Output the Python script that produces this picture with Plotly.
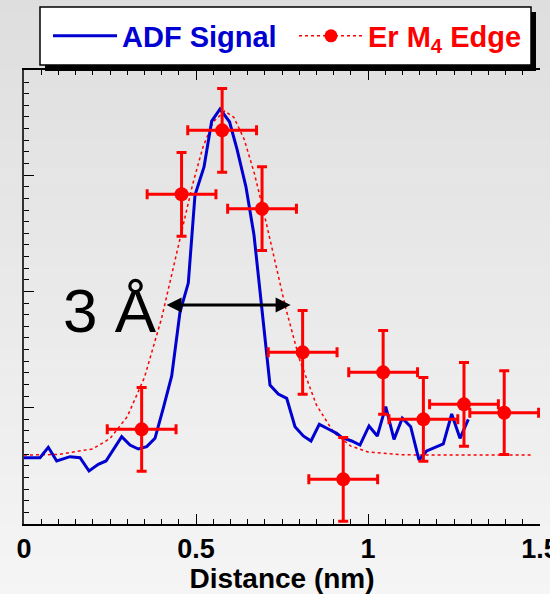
import plotly.graph_objects as go

# ---------------- data ----------------
adf_x = [0.000, 0.0465, 0.0706, 0.0951, 0.1337, 0.1628, 0.1890, 0.2160, 0.2384,
         0.2840, 0.3081, 0.3323, 0.3567, 0.3808, 0.4049, 0.4294, 0.4535, 0.4776,
         0.4971, 0.5233, 0.5456, 0.5698, 0.5974, 0.6192, 0.6453, 0.6686, 0.6919,
         0.7151, 0.7392, 0.7637, 0.7878, 0.8119, 0.8343, 0.8584, 0.8846, 0.9090,
         0.9235, 0.9526, 0.9767, 1.0029, 1.0270, 1.0515, 1.0756, 1.0997, 1.1241,
         1.1483, 1.1706, 1.2189, 1.2433, 1.2674, 1.2916]
adf_y = [0.570, 0.570, 0.660, 0.542, 0.579, 0.570, 0.456, 0.513, 0.542,
         0.751, 0.679, 0.645, 0.665, 0.737, 0.997, 1.273, 1.823, 2.072,
         2.829, 3.070, 3.465, 3.568, 3.459, 3.224, 2.898, 2.485, 1.840,
         1.195, 1.118, 1.081, 0.837, 0.757, 0.714, 0.857, 0.817, 0.780,
         0.745, 0.714, 0.679, 0.843, 0.757, 1.009, 0.728, 0.909, 0.837,
         0.550, 0.628, 0.688, 0.946, 0.737, 0.900]

er_x = [0.342, 0.458, 0.576, 0.692, 0.810, 0.928, 1.044, 1.161, 1.279, 1.396]
er_y = [0.814, 2.835, 3.385, 2.711, 1.476, 0.384, 1.304, 0.900, 1.029, 0.957]
er_xerr = [0.10, 0.10, 0.10, 0.10, 0.10, 0.10, 0.10, 0.10, 0.10, 0.10]
er_yerr = [0.36, 0.36, 0.36, 0.36, 0.36, 0.36, 0.36, 0.36, 0.36, 0.36]

fit_x = [0.00, 0.10, 0.20, 0.25, 0.30, 0.35, 0.40, 0.43, 0.46, 0.49, 0.52, 0.55,
         0.584, 0.61, 0.64, 0.67, 0.70, 0.73, 0.76, 0.80, 0.85, 0.90, 0.95, 1.00,
         1.10, 1.20, 1.30, 1.40, 1.48]
fit_y = [0.593, 0.598, 0.646, 0.735, 0.922, 1.259, 1.769, 2.143, 2.539, 2.918, 3.239, 3.459,
         3.551, 3.497, 3.309, 3.011, 2.643, 2.248, 1.866, 1.423, 1.024, 0.788, 0.670, 0.620,
         0.595, 0.593, 0.593, 0.593, 0.593]

x_tickvals = [0, 0.5, 1, 1.5]
x_ticktext = ["0", "0.5", "1", "1.5"]

# ---------------- styling ----------------
FONT = "Liberation Sans, Arial, Helvetica, sans-serif"
BLUE = "#0000d0"
RED = "#ff0000"
W, H = 550, 594
L, R, T, B = 24, 10, 70, 70
PW, PH = W - L - R, H - T - B


def px(xp):
    return (xp - L) / PW


def py(yp):
    return (H - B - yp) / PH


fig = go.Figure()

fig.add_trace(go.Scatter(x=fit_x, y=fit_y, mode="lines",
                         line=dict(color=RED, width=1.5, dash="dot"),
                         showlegend=False, hoverinfo="skip"))
fig.add_trace(go.Scatter(x=adf_x, y=adf_y, mode="lines", name="ADF Signal",
                         line=dict(color=BLUE, width=3), legend="legend"))
fig.add_trace(go.Scatter(x=er_x, y=er_y, mode="markers", showlegend=False,
                         marker=dict(color=RED, size=14),
                         error_x=dict(type="data", array=er_xerr, color=RED, thickness=3, width=5),
                         error_y=dict(type="data", array=er_yerr, color=RED, thickness=3, width=5),
                         cliponaxis=False))
# legend entry for the Er edge (marker + dotted fit line)
fig.add_trace(go.Scatter(x=[None], y=[None], mode="lines+markers",
                         name="Er M<sub>4</sub> Edge", legend="legend2",
                         line=dict(color=RED, width=1.5, dash="dot"),
                         marker=dict(color=RED, size=13)))

# background gradient strips
shapes = []
N = 60
for i in range(N):
    y0 = i * H / N
    y1 = (i + 1) * H / N
    c = round(222 + (245 - 222) * (i + 0.5) / N)
    shapes.append(dict(type="rect", xref="paper", yref="paper", layer="below",
                       x0=px(0), x1=px(W), y0=py(y1 + 0.5), y1=py(y0),
                       fillcolor=f"rgb({c},{c},{c})", line=dict(width=0)))
# legend box with shadow
shapes.append(dict(type="rect", xref="paper", yref="paper", layer="above",
                   x0=px(45), x1=px(536), y0=py(71), y1=py(12),
                   fillcolor="black", line=dict(width=0)))
shapes.append(dict(type="rect", xref="paper", yref="paper", layer="above",
                   x0=px(40), x1=px(531), y0=py(65), y1=py(7),
                   fillcolor="white", line=dict(color="black", width=1.5)))

annotations = [
    dict(x=0.775, y=1.883, ax=0.41, ay=1.883, xref="x", yref="y", axref="x", ayref="y",
         text="", showarrow=True, arrowhead=2, startarrowhead=2, arrowside="end+start",
         arrowwidth=3, arrowsize=1, startarrowsize=1, arrowcolor="black",
         standoff=0, startstandoff=0),
    dict(x=0.249, y=1.84, xref="x", yref="y", text="3 Å", showarrow=False,
         xanchor="center", yanchor="middle",
         font=dict(family=FONT, size=62, color="black")),
]

fig.update_layout(
    width=W, height=H,
    margin=dict(l=L, r=R, t=T, b=B, pad=0, autoexpand=False),
    paper_bgcolor="rgba(0,0,0,0)", plot_bgcolor="rgba(0,0,0,0)",
    font=dict(family=FONT, color="black"),
    shapes=shapes, annotations=annotations,
    xaxis=dict(range=[0, 1.5], tickvals=x_tickvals, ticktext=x_ticktext,
               automargin=False,
               ticks="inside", ticklen=10, tickwidth=1, tickcolor="black",
               ticklabeloverflow="allow",
               minor=dict(dtick=0.05, tick0=0, ticks="inside", ticklen=5, tickcolor="black"),
               showgrid=False, zeroline=False, showline=True, linecolor="black", linewidth=1.5,
               mirror="ticks",
               tickfont=dict(family=FONT, size=27, color="black", weight="bold"),
               title=dict(text="Distance (nm)", standoff=2,
                          font=dict(family=FONT, size=28, color="black", weight="bold"))),
    yaxis=dict(range=[0, 3.904], dtick=1, tick0=0, ticks="inside", ticklen=10, tickcolor="black",
               automargin=False,
               minor=dict(dtick=0.1, tick0=0, ticks="inside", ticklen=5, tickcolor="black"),
               showticklabels=False, showgrid=False, zeroline=False,
               showline=True, linecolor="#333333", linewidth=1.5, mirror=False),
    yaxis2=dict(range=[0, 6.486], dtick=1, tick0=0, overlaying="y", side="right",
                automargin=False,
                ticks="inside", ticklen=10, tickcolor="black",
                minor=dict(dtick=0.2, tick0=0, ticks="inside", ticklen=5, tickcolor="black"),
                showticklabels=False, showgrid=False, zeroline=False,
                showline=True, linecolor="black", linewidth=1.5),
    legend=dict(orientation="h", x=px(48), y=py(36), xref="paper", yref="paper",
                xanchor="left", yanchor="middle", bgcolor="rgba(0,0,0,0)", borderwidth=0,
                itemwidth=64, font=dict(family=FONT, size=29, color=BLUE, weight="bold")),
    legend2=dict(orientation="h", x=px(527), y=py(36), xref="paper", yref="paper",
                 xanchor="right", yanchor="middle", bgcolor="rgba(0,0,0,0)", borderwidth=0,
                 itemwidth=64, font=dict(family=FONT, size=29, color=RED, weight="bold")),
)

fig.write_html("out.html")
